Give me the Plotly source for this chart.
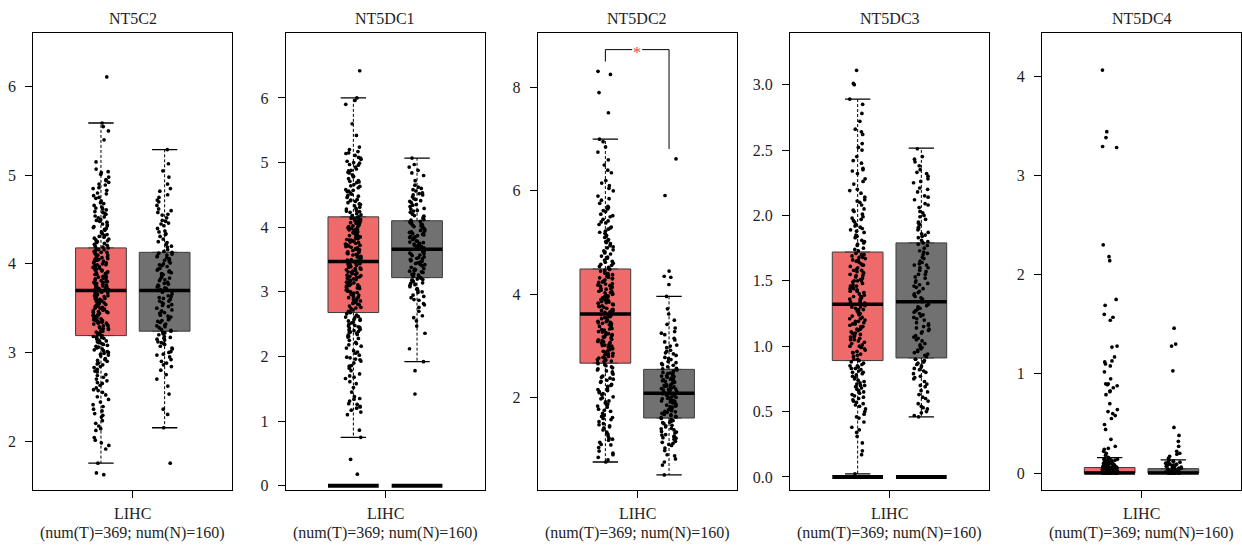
import numpy as np
import plotly.graph_objects as go

# ---- data -------------------------------------------------------------
genes = ["NT5C2", "NT5DC1", "NT5DC2", "NT5DC3", "NT5DC4"]
cancer = "LIHC"
n_tumor, n_normal = 369, 160

# box statistics per gene: [lower whisker, q1, median, q3, upper whisker]
tumor_stats = [
    [1.75, 3.19, 3.70, 4.18, 5.59],
    [0.75, 2.68, 3.47, 4.16, 6.00],
    [0.76, 2.67, 3.62, 4.49, 7.00],
    [0.024, 0.89, 1.32, 1.72, 2.89],
    [0.00, 0.00, 0.00, 0.056, 0.156],
]
normal_stats = [
    [2.15, 3.24, 3.70, 4.13, 5.29],
    [1.92, 3.22, 3.66, 4.10, 5.07],
    [0.51, 1.61, 2.09, 2.55, 3.96],
    [0.46, 0.91, 1.34, 1.79, 2.515],
    [0.00, 0.00, 0.00, 0.045, 0.133],
]
# genes with a group of zero-expression samples
zero_group = [False, True, False, True, False]
# significance mark (NT5DC2 only): bracket height and leg ends
sig_marks = ["", "", "*", "", ""]
bracket_y = 8.73
bracket_left_end = 8.50
bracket_right_end = 6.81

# sample values (log2(TPM+1))
tumor_nt5c2 = [
    1.62, 1.64, 1.75, 1.91, 1.95, 2.01, 2.04, 2.12, 2.17, 2.2, 2.23, 2.29, 2.31, 2.34, 2.41, 2.44,
    2.47, 2.52, 2.55, 2.57, 2.6, 2.63, 2.66, 2.68, 2.7, 2.74, 2.75, 2.78, 2.81, 2.83, 2.84, 2.87,
    2.9, 2.91, 2.93, 2.96, 2.98, 3.0, 3.01, 3.03, 3.05, 3.07, 3.08, 3.1, 3.11, 3.13, 3.14, 3.16,
    3.17, 3.18, 2.99, 3.06, 2.88, 3.12, 3.15,
    3.19, 3.2, 3.22, 3.23, 3.25, 3.26, 3.28, 3.29, 3.3, 3.32, 3.33, 3.35, 3.36, 3.37, 3.39, 3.4,
    3.42, 3.43, 3.44, 3.46, 3.47, 3.49, 3.5, 3.51, 3.52, 3.54, 3.55, 3.56, 3.58, 3.59, 3.6, 3.61,
    3.63, 3.64, 3.65, 3.66, 3.67, 3.68, 3.69, 3.7, 3.21, 3.27, 3.34, 3.41, 3.48, 3.53, 3.57, 3.62,
    3.66, 3.24, 3.38, 3.45, 3.31, 3.52, 3.59,
    3.71, 3.72, 3.73, 3.75, 3.76, 3.77, 3.79, 3.8, 3.81, 3.83, 3.84, 3.86, 3.87, 3.88, 3.9, 3.91,
    3.93, 3.94, 3.95, 3.97, 3.98, 4.0, 4.01, 4.02, 4.04, 4.05, 4.07, 4.08, 4.09, 4.11, 4.12, 4.14,
    4.15, 4.17, 4.18, 3.74, 3.82, 3.89, 3.96, 4.03, 4.1, 4.16, 3.78, 3.92, 4.06, 3.85, 3.99, 4.13,
    3.71, 3.8,
    4.19, 4.21, 4.22, 4.24, 4.26, 4.27, 4.29, 4.31, 4.32, 4.34, 4.36, 4.38, 4.4, 4.41, 4.43, 4.45,
    4.47, 4.5, 4.52, 4.54, 4.57, 4.59, 4.61, 4.63, 4.66, 4.68, 4.71, 4.74, 4.77, 4.8, 4.83, 4.86,
    4.89, 4.92, 4.95, 4.98, 5.01, 5.04, 5.07, 5.15, 5.4, 5.5, 5.55, 5.59, 6.11, 4.25, 4.33, 4.42,
    4.49, 4.56, 4.64, 4.79, 4.9,
    2.58, 2.65, 2.72, 2.79, 2.86, 2.92, 2.97, 3.02, 3.04, 3.09, 3.13, 3.17, 3.2, 3.24, 3.27, 3.3,
    3.33, 3.36, 3.39, 3.42, 3.45, 3.48, 3.5, 3.53, 3.56, 3.58, 3.61, 3.64, 3.67, 3.69, 3.72, 3.74,
    3.77, 3.79, 3.82, 3.85, 3.88, 3.9, 3.93, 3.96, 3.99, 4.01, 4.04, 4.07, 4.1, 4.13, 4.16, 4.2,
    4.23, 4.28, 4.3, 4.35, 4.39, 4.44, 4.48, 4.53, 4.58, 4.62, 4.69, 4.75, 4.85, 4.94, 5.03, 2.39,
    2.5, 2.27, 2.36, 2.14, 1.98, 3.35, 3.55, 3.75, 3.95, 4.05, 3.65, 3.46, 3.26,
]
normal_nt5c2 = [
    1.75, 2.15, 2.3, 2.36, 2.53, 2.62, 2.7, 2.75, 2.8, 2.84, 2.88, 2.92, 2.95, 2.98, 3.01, 3.04,
    3.07, 3.1, 3.12, 3.14, 3.16, 3.18, 3.2, 3.22, 3.23, 2.86, 3.0, 3.09, 3.15, 3.21,
    3.24, 3.26, 3.28, 3.3, 3.32, 3.34, 3.36, 3.38, 3.4, 3.42, 3.44, 3.46, 3.48, 3.5, 3.52, 3.54,
    3.56, 3.58, 3.6, 3.62, 3.64, 3.66, 3.68, 3.7, 3.29, 3.37, 3.45, 3.53, 3.61, 3.41,
    3.71, 3.73, 3.75, 3.77, 3.79, 3.81, 3.83, 3.85, 3.87, 3.89, 3.91, 3.93, 3.95, 3.97, 3.99, 4.01,
    4.03, 4.05, 4.07, 4.09, 4.11, 4.12, 3.74, 3.82, 3.9, 3.98, 4.06, 3.78, 3.94, 4.1,
    4.13, 4.16, 4.19, 4.22, 4.25, 4.28, 4.31, 4.34, 4.37, 4.4, 4.43, 4.46, 4.49, 4.52, 4.55, 4.58,
    4.62, 4.66, 4.72, 4.78, 4.82, 4.85, 4.98, 5.13, 5.29, 4.2, 4.33, 4.45, 4.56, 4.7,
    2.9, 2.97, 3.05, 3.11, 3.17, 3.25, 3.31, 3.39, 3.47, 3.55, 3.63, 3.69, 3.76, 3.84, 3.92, 4.0,
    4.08, 4.14, 4.24, 4.36, 4.48, 4.6, 4.75, 4.9, 5.05, 3.58, 3.72, 3.88, 4.04, 3.35,
]
tumor_nt5dc1 = [
    0.18, 0.41, 0.75, 0.86, 1.1, 1.14, 1.17, 1.2, 1.23, 1.27, 1.31, 1.35, 1.38, 1.45, 1.52, 1.58,
    1.61, 1.66, 1.7, 1.73, 1.78, 1.82, 1.86, 1.9, 1.93, 1.96, 1.99, 2.02, 2.05, 2.09, 2.13, 2.18,
    2.22, 2.25, 2.28, 2.31, 2.34, 2.36, 2.38, 2.4, 2.42, 2.44, 2.46, 2.48, 2.5, 2.53, 2.55, 2.57,
    2.6, 2.62, 2.64, 2.66, 1.26, 1.98, 2.37, 2.45, 2.58,
    2.68, 2.7, 2.72, 2.74, 2.76, 2.78, 2.8, 2.82, 2.84, 2.86, 2.88, 2.9, 2.92, 2.95, 2.97, 2.99,
    3.01, 3.03, 3.05, 3.07, 3.09, 3.11, 3.13, 3.15, 3.17, 3.19, 3.21, 3.23, 3.25, 3.27, 3.29, 3.31,
    3.33, 3.35, 3.37, 3.39, 3.41, 3.43, 3.45, 3.47, 2.91, 3.0, 3.08, 3.16, 3.24, 3.32, 3.4, 2.83,
    3.12, 3.28, 3.36, 3.44, 2.96, 3.2, 3.04,
    3.48, 3.5, 3.52, 3.54, 3.56, 3.58, 3.6, 3.62, 3.64, 3.66, 3.68, 3.7, 3.72, 3.74, 3.76, 3.78,
    3.8, 3.82, 3.84, 3.86, 3.88, 3.9, 3.92, 3.94, 3.96, 3.98, 4.0, 4.02, 4.04, 4.06, 4.08, 4.1,
    4.12, 4.14, 4.15, 3.55, 3.63, 3.71, 3.79, 3.87, 3.95, 4.03, 4.11, 3.59, 3.75, 3.91, 4.07, 3.67,
    3.83, 3.99,
    4.16, 4.18, 4.21, 4.23, 4.26, 4.28, 4.31, 4.33, 4.36, 4.38, 4.41, 4.43, 4.46, 4.48, 4.51, 4.53,
    4.56, 4.58, 4.61, 4.63, 4.66, 4.69, 4.72, 4.75, 4.78, 4.81, 4.84, 4.87, 4.9, 4.93, 4.96, 4.99,
    5.02, 5.05, 5.08, 5.11, 5.14, 5.17, 5.2, 5.24, 5.42, 5.6, 5.9, 5.96, 6.0, 6.42, 4.25, 4.4,
    4.55, 4.7, 4.85, 5.0,
    2.2, 2.3, 2.39, 2.47, 2.52, 2.61, 2.69, 2.75, 2.81, 2.87, 2.93, 2.98, 3.02, 3.06, 3.1, 3.14,
    3.18, 3.22, 3.26, 3.3, 3.34, 3.38, 3.42, 3.46, 3.49, 3.53, 3.57, 3.61, 3.65, 3.69, 3.73, 3.77,
    3.81, 3.85, 3.89, 3.93, 3.97, 4.01, 4.05, 4.09, 4.13, 4.19, 4.24, 4.29, 4.35, 4.42, 4.49, 4.57,
    4.64, 4.71, 4.79, 4.88, 4.97, 5.07, 5.15, 1.95, 1.85, 1.68, 1.34, 1.22, 2.07, 2.16, 2.33, 2.41,
    2.56, 3.44, 3.62, 3.8, 3.96, 4.1,
]
normal_nt5dc1 = [
    1.42, 1.78, 1.92, 2.12, 2.36, 2.47, 2.55, 2.63, 2.7, 2.76, 2.82, 2.87, 2.91, 2.95, 2.99, 3.02,
    3.05, 3.08, 3.1, 3.12, 3.14, 3.16, 3.18, 3.2, 3.21, 2.88, 3.0, 3.13, 3.17, 3.19,
    3.22, 3.24, 3.26, 3.28, 3.3, 3.32, 3.34, 3.36, 3.38, 3.4, 3.42, 3.44, 3.46, 3.48, 3.5, 3.52,
    3.54, 3.56, 3.58, 3.6, 3.62, 3.64, 3.66, 3.27, 3.35, 3.43, 3.51, 3.59, 3.31, 3.47,
    3.67, 3.69, 3.71, 3.73, 3.75, 3.77, 3.79, 3.81, 3.83, 3.85, 3.87, 3.89, 3.91, 3.93, 3.95, 3.97,
    3.99, 4.01, 4.03, 4.05, 4.07, 4.09, 3.7, 3.78, 3.86, 3.94, 4.02, 3.74, 3.9, 4.06,
    4.11, 4.14, 4.17, 4.2, 4.23, 4.26, 4.29, 4.32, 4.35, 4.38, 4.41, 4.44, 4.47, 4.5, 4.53, 4.56,
    4.6, 4.65, 4.72, 4.8, 4.88, 4.93, 4.97, 5.07, 4.16, 4.28, 4.4, 4.52, 4.62, 4.84,
    2.8, 2.93, 3.04, 3.11, 3.18, 3.25, 3.33, 3.41, 3.49, 3.57, 3.63, 3.68, 3.76, 3.84, 3.92, 4.0,
    4.08, 4.12, 4.18, 4.25, 4.34, 4.43, 4.5, 4.58, 3.53, 3.72, 3.88, 4.04, 3.45, 2.6,
]
tumor_nt5dc2 = [
    0.76, 0.8, 0.85, 0.9, 0.97, 1.04, 1.09, 1.14, 1.18, 1.22, 1.26, 1.3, 1.34, 1.38, 1.42, 1.46,
    1.5, 1.54, 1.58, 1.62, 1.66, 1.7, 1.74, 1.78, 1.82, 1.86, 1.9, 1.94, 1.98, 2.02, 2.06, 2.1,
    2.14, 2.18, 2.22, 2.26, 2.3, 2.34, 2.38, 2.42, 2.46, 2.5, 2.54, 2.58, 2.62, 2.66, 1.2, 1.6,
    1.88, 2.12, 2.36, 2.52, 2.6,
    2.68, 2.71, 2.73, 2.76, 2.78, 2.81, 2.83, 2.86, 2.88, 2.91, 2.93, 2.96, 2.98, 3.01, 3.03, 3.06,
    3.08, 3.11, 3.13, 3.16, 3.18, 3.21, 3.23, 3.26, 3.28, 3.31, 3.33, 3.36, 3.38, 3.41, 3.43, 3.46,
    3.48, 3.51, 3.53, 3.56, 3.58, 3.61, 2.74, 2.85, 2.97, 3.09, 3.2, 3.32, 3.44, 3.55, 2.8, 3.0,
    3.24, 3.47,
    3.63, 3.66, 3.68, 3.71, 3.73, 3.76, 3.78, 3.81, 3.83, 3.86, 3.88, 3.91, 3.93, 3.96, 3.98, 4.01,
    4.03, 4.06, 4.08, 4.11, 4.13, 4.16, 4.18, 4.21, 4.23, 4.26, 4.28, 4.31, 4.33, 4.36, 4.38, 4.41,
    4.43, 4.46, 4.48, 3.7, 3.84, 3.97, 4.1, 4.24, 4.37, 3.77, 4.04, 4.3, 3.9, 4.17,
    4.5, 4.54, 4.58, 4.62, 4.66, 4.7, 4.74, 4.78, 4.82, 4.86, 4.9, 4.94, 4.98, 5.02, 5.06, 5.1,
    5.14, 5.18, 5.22, 5.26, 5.3, 5.35, 5.4, 5.45, 5.5, 5.55, 5.6, 5.65, 5.7, 5.76, 5.82, 5.9,
    6.0, 6.1, 6.2, 6.35, 6.5, 6.6, 6.75, 6.85, 6.95, 7.0, 7.51, 7.9, 8.25, 8.31, 4.6, 4.8,
    5.0, 5.2, 5.42, 5.62, 6.05,
    1.32, 1.48, 1.64, 1.76, 1.84, 1.92, 2.0, 2.08, 2.16, 2.24, 2.32, 2.4, 2.48, 2.56, 2.64, 2.7,
    2.77, 2.84, 2.9, 2.95, 3.02, 3.07, 3.12, 3.17, 3.22, 3.27, 3.34, 3.4, 3.45, 3.5, 3.57, 3.6,
    3.65, 3.69, 3.75, 3.8, 3.85, 3.89, 3.95, 4.0, 4.05, 4.12, 4.15, 4.2, 4.25, 4.32, 4.35, 4.4,
    4.45, 4.52, 4.56, 4.64, 4.72, 4.84, 4.92, 5.04, 5.12, 5.28, 5.38, 5.52, 5.68, 5.85, 6.15, 6.4,
    1.1, 0.93, 1.44,
]
normal_nt5dc2 = [
    0.51, 0.7, 0.76, 0.82, 0.9, 0.98, 1.03, 1.08, 1.12, 1.16, 1.2, 1.23, 1.26, 1.29, 1.32, 1.35,
    1.38, 1.41, 1.44, 1.47, 1.5, 1.53, 1.56, 1.58, 1.6, 1.14, 1.28, 1.4, 1.52, 1.25,
    1.62, 1.64, 1.66, 1.68, 1.7, 1.72, 1.74, 1.76, 1.78, 1.8, 1.82, 1.84, 1.86, 1.88, 1.9, 1.92,
    1.94, 1.96, 1.98, 2.0, 2.02, 2.04, 2.06, 2.08, 1.67, 1.75, 1.83, 1.91, 1.99, 2.05,
    2.1, 2.12, 2.14, 2.16, 2.18, 2.2, 2.22, 2.24, 2.26, 2.28, 2.3, 2.32, 2.34, 2.36, 2.38, 2.4,
    2.42, 2.44, 2.46, 2.48, 2.5, 2.52, 2.54, 2.15, 2.23, 2.31, 2.39, 2.47, 2.19, 2.35,
    2.57, 2.6, 2.63, 2.66, 2.7, 2.74, 2.78, 2.82, 2.87, 2.92, 2.97, 3.02, 3.08, 3.15, 3.22, 3.28,
    3.35, 3.42, 3.5, 3.62, 3.72, 3.96, 4.19, 4.33, 4.35, 4.45, 5.91, 6.62, 2.68, 2.9,
    1.1, 1.22, 1.34, 1.46, 1.55, 1.63, 1.69, 1.77, 1.85, 1.93, 2.01, 2.07, 2.11, 2.17, 2.25, 2.33,
    2.41, 2.49, 2.56, 2.64, 2.76, 2.85, 3.0, 3.12, 3.25, 1.73, 1.95, 2.21, 2.43, 0.88,
]
tumor_nt5dc3 = [
    0.024, 0.17, 0.2, 0.26, 0.31, 0.34, 0.36, 0.42, 0.46, 0.5, 0.52, 0.55, 0.57, 0.59, 0.61, 0.63,
    0.65, 0.67, 0.69, 0.71, 0.73, 0.75, 0.77, 0.79, 0.81, 0.83, 0.85, 0.87, 0.88, 0.54, 0.62, 0.7,
    0.78, 0.84, 0.66, 0.74, 0.8, 0.86, 0.6, 0.82, 0.45, 0.38, 0.56, 0.72, 0.89,
    0.9, 0.92, 0.93, 0.95, 0.96, 0.98, 0.99, 1.01, 1.02, 1.04, 1.05, 1.07, 1.08, 1.1, 1.11, 1.13,
    1.14, 1.16, 1.17, 1.19, 1.2, 1.22, 1.23, 1.25, 1.26, 1.28, 1.29, 1.31, 1.32, 0.94, 1.0, 1.06,
    1.12, 1.18, 1.24, 1.3, 0.97, 1.09, 1.15, 1.21, 1.27, 1.03, 1.1, 1.19,
    1.33, 1.35, 1.36, 1.38, 1.39, 1.41, 1.42, 1.44, 1.45, 1.47, 1.48, 1.5, 1.51, 1.53, 1.54, 1.56,
    1.57, 1.59, 1.6, 1.62, 1.63, 1.65, 1.66, 1.68, 1.69, 1.71, 1.37, 1.43, 1.49, 1.55, 1.61, 1.67,
    1.4, 1.52, 1.64, 1.46, 1.58, 1.7, 1.34, 1.5,
    1.73, 1.75, 1.77, 1.79, 1.81, 1.83, 1.85, 1.87, 1.89, 1.91, 1.93, 1.95, 1.97, 1.99, 2.01, 2.03,
    2.05, 2.08, 2.11, 2.14, 2.17, 2.2, 2.24, 2.28, 2.32, 2.36, 2.4, 2.45, 2.5, 2.55, 2.62, 2.66,
    2.72, 2.78, 2.85, 2.89, 3.0, 3.01, 3.11, 1.8, 1.9, 1.96, 2.1, 2.35,
    0.48, 0.58, 0.64, 0.68, 0.76, 0.8, 0.85, 0.9, 0.95, 1.0, 1.05, 1.09, 1.13, 1.17, 1.21, 1.25,
    1.28, 1.3, 1.34, 1.38, 1.42, 1.46, 1.5, 1.54, 1.58, 1.62, 1.66, 1.7, 1.74, 1.78, 1.84, 1.88,
    1.92, 1.98, 2.04, 2.12, 2.19, 2.26, 2.34, 2.42, 2.52, 2.64, 0.7, 0.83, 1.07, 1.15, 1.36, 1.44,
    1.56, 1.68,
]
normal_nt5dc3 = [
    0.46, 0.47, 0.49, 0.52, 0.54, 0.56, 0.58, 0.61, 0.63, 0.66, 0.69, 0.71, 0.73, 0.75, 0.77, 0.79,
    0.81, 0.83, 0.84, 0.86, 0.87, 0.88, 0.89, 0.9, 0.53, 0.65, 0.76, 0.82, 0.85, 0.9,
    0.92, 0.94, 0.96, 0.98, 1.0, 1.02, 1.04, 1.06, 1.08, 1.1, 1.12, 1.14, 1.16, 1.18, 1.2, 1.22,
    1.24, 1.26, 1.28, 1.3, 1.32, 1.34, 0.97, 1.05, 1.13, 1.21, 1.29, 1.01, 1.17, 1.25,
    1.36, 1.38, 1.4, 1.42, 1.45, 1.48, 1.5, 1.53, 1.55, 1.58, 1.6, 1.63, 1.65, 1.68, 1.7, 1.73,
    1.75, 1.78, 1.79, 1.41, 1.52, 1.62, 1.72, 1.44, 1.57, 1.67, 1.37, 1.49, 1.6, 1.77,
    1.81, 1.83, 1.85, 1.87, 1.89, 1.91, 1.93, 1.95, 1.97, 2.0, 2.03, 2.06, 2.09, 2.12, 2.15, 2.18,
    2.21, 2.25, 2.28, 2.32, 2.35, 2.38, 2.41, 2.45, 2.51, 1.86, 1.94, 2.02, 2.14, 2.3,
    0.5, 0.6, 0.7, 0.8, 0.88, 0.93, 0.99, 1.07, 1.15, 1.23, 1.31, 1.39, 1.47, 1.55, 1.64, 1.71,
    1.8, 1.9, 1.99, 2.08, 2.2, 2.33, 2.43, 1.11, 1.27, 1.46, 1.62, 0.95, 1.84, 2.26,
]
tumor_nt5dc4 = [
    0.0, 0.0, 0.0, 0.0, 0.0, 0.0, 0.0, 0.0, 0.0, 0.0, 0.01, 0.0, 0.01, 0.0, 0.02, 0.0,
    0.01, 0.0, 0.02, 0.03, 0.01, 0.04, 0.02, 0.05, 0.03, 0.06, 0.04, 0.07, 0.05, 0.08, 0.06, 0.09,
    0.07, 0.1, 0.08, 0.11, 0.09, 0.12, 0.1, 0.13, 0.11, 0.14, 0.12, 0.15, 0.13, 0.16, 0.14, 0.15,
    0.02, 0.03, 0.05, 0.07, 0.1, 0.12, 0.0, 0.0, 0.01, 0.02, 0.03, 0.04, 0.05, 0.06, 0.08, 0.09,
    0.11, 0.13, 0.04, 0.06, 0.08, 0.0, 0.01, 0.03,
    0.18, 0.2, 0.22, 0.24, 0.25, 0.27, 0.34, 0.44, 0.49, 0.55, 0.58, 0.6, 0.62, 0.64, 0.7, 0.79,
    0.82, 0.83, 0.86, 0.88, 0.89, 0.9, 0.9, 0.95, 1.02, 1.08, 1.1, 1.12, 1.13, 1.17, 1.27, 1.28,
    1.54, 1.57, 1.6, 1.69, 1.75, 2.14, 2.18, 2.3, 3.28, 3.29, 3.38, 3.44, 4.06,
]
normal_nt5dc4 = [
    0.0, 0.0, 0.0, 0.0, 0.0, 0.0, 0.0, 0.0, 0.01, 0.0, 0.01, 0.02, 0.0, 0.03, 0.01, 0.04,
    0.02, 0.05, 0.03, 0.06, 0.04, 0.07, 0.05, 0.08, 0.06, 0.09, 0.07, 0.1, 0.08, 0.11, 0.09, 0.12,
    0.1, 0.13, 0.11, 0.12, 0.0, 0.01, 0.02, 0.04, 0.06, 0.08, 0.1, 0.03, 0.05,
    0.15, 0.17, 0.19, 0.2, 0.22, 0.27, 0.32, 0.38, 0.46, 1.03, 1.28, 1.3, 1.46,
]

tumor_values = [tumor_nt5c2, tumor_nt5dc1, tumor_nt5dc2, tumor_nt5dc3, tumor_nt5dc4]
normal_values = [normal_nt5c2, normal_nt5dc1, normal_nt5dc2, normal_nt5dc3, normal_nt5dc4]

# ---- axes --------------------------------------------------------------
y_ranges = [[1.443, 6.605], [-0.071, 7.003], [0.211, 9.05], [-0.103, 3.395], [-0.174, 4.433]]
y_ticks = [[2, 3, 4, 5, 6], [0, 1, 2, 3, 4, 5, 6], [2, 4, 6, 8],
           [0, 0.5, 1, 1.5, 2, 2.5, 3], [0, 1, 2, 3, 4]]
y_tickformat = ["d", "d", "d", ".1f", "d"]

# ---- style / geometry ------------------------------------------------
W, H = 1242, 547
panel_left_px = [33.3, 285.7, 537.7, 790.0, 1042.0]
panel_width_px = 199.0
plot_top_px, plot_bottom_px = 33.3, 494.0
FONT = "'Liberation Serif', 'Times New Roman', 'DejaVu Serif', serif"
TEXT = "#1e1e1e"
TUMOR_FILL = "#EE6A6B"
NORMAL_FILL = "#717171"
EDGE = "#3C3C3C"
centers = {"T": -0.32, "N": 0.32}
box_w = 0.51
jitter = 0.08

rng = np.random.default_rng(2024)  # horizontal jitter of the sample dots

fig = go.Figure()
annotations = []

for i, gene in enumerate(genes):
    sfx = "" if i == 0 else str(i + 1)
    xa, ya = "x" + sfx, "y" + sfx
    groups = [("T", tumor_stats[i], tumor_values[i], TUMOR_FILL),
              ("N", normal_stats[i], normal_values[i], NORMAL_FILL)]
    for key, stats, vals, fill in groups:
        c = centers[key]
        lo, q1, med, q3, hi = stats
        # box body
        fig.add_trace(go.Box(
            x=[c], q1=[q1], median=[med], q3=[q3], lowerfence=[q1], upperfence=[q3],
            width=box_w, fillcolor=fill, line=dict(color=EDGE, width=1),
            xaxis=xa, yaxis=ya, showlegend=False, hoverinfo="skip"))
        # dashed whiskers
        fig.add_trace(go.Scatter(
            x=[c, c, None, c, c], y=[q3, hi, None, q1, lo], mode="lines",
            line=dict(color="black", width=1, dash="3px,2px"),
            xaxis=xa, yaxis=ya, showlegend=False, hoverinfo="skip"))
        # whisker caps
        fig.add_trace(go.Scatter(
            x=[c - box_w / 4, c + box_w / 4, None, c - box_w / 4, c + box_w / 4],
            y=[hi, hi, None, lo, lo], mode="lines",
            line=dict(color="black", width=1.3),
            xaxis=xa, yaxis=ya, showlegend=False, hoverinfo="skip"))
        # jittered samples
        xs = c + rng.uniform(-jitter, jitter, len(vals))
        fig.add_trace(go.Scatter(
            x=xs, y=vals, mode="markers",
            marker=dict(color="black", size=3.7, line=dict(width=0)),
            xaxis=xa, yaxis=ya, showlegend=False, hoverinfo="skip"))
        # median
        fig.add_trace(go.Scatter(
            x=[c - box_w / 2, c + box_w / 2], y=[med, med], mode="lines",
            line=dict(color="black", width=3.5),
            xaxis=xa, yaxis=ya, showlegend=False, hoverinfo="skip"))
        # zero-expression samples
        if zero_group[i]:
            fig.add_trace(go.Scatter(
                x=[c - box_w / 2, c + box_w / 2], y=[0, 0], mode="lines",
                line=dict(color="black", width=4),
                xaxis=xa, yaxis=ya, showlegend=False, hoverinfo="skip"))

    if sig_marks[i]:
        xl, xr = centers["T"], centers["N"]
        gap = 0.05
        fig.add_trace(go.Scatter(
            x=[xl, xl, -gap, None, gap, xr, xr],
            y=[bracket_left_end, bracket_y, bracket_y, None, bracket_y, bracket_y, bracket_right_end],
            mode="lines", line=dict(color="black", width=1),
            xaxis=xa, yaxis=ya, showlegend=False, hoverinfo="skip"))
        annotations.append(dict(
            x=0, y=bracket_y, xref=xa, yref=ya, text=sig_marks[i], showarrow=False,
            font=dict(family=FONT, size=16, color="#E8474A"), yshift=-3))

    x0 = panel_left_px[i] / W
    x1 = (panel_left_px[i] + panel_width_px) / W
    y0 = 1 - plot_bottom_px / H
    y1 = 1 - plot_top_px / H
    axis_common = dict(showline=True, mirror=True, linecolor="black", linewidth=1,
                       ticks="outside", ticklen=7, tickcolor="black", tickwidth=1,
                       showgrid=False, zeroline=False,
                       tickfont=dict(family=FONT, size=16, color=TEXT))
    fig.update_layout(**{
        "xaxis" + sfx: dict(domain=[x0, x1], range=[-1, 1], tickvals=[0], ticktext=[""],
                            anchor=ya, **axis_common),
        "yaxis" + sfx: dict(domain=[y0, y1], range=y_ranges[i], tickvals=y_ticks[i],
                            tickformat=y_tickformat[i], anchor=xa, ticklabelstandoff=6,
                            **axis_common),
    })

    xc = (x0 + x1) / 2
    annotations.append(dict(x=xc, y=1 - 19 / H, xref="paper", yref="paper", text=gene,
                            showarrow=False, font=dict(family=FONT, size=16, color=TEXT),
                            xanchor="center", yanchor="middle"))
    annotations.append(dict(x=xc, y=1 - 517.5 / H, xref="paper", yref="paper", text=cancer,
                            showarrow=False, font=dict(family=FONT, size=16, color=TEXT),
                            xanchor="center", yanchor="middle"))
    annotations.append(dict(x=xc, y=1 - 536.5 / H, xref="paper", yref="paper",
                            text=f"(num(T)={n_tumor}; num(N)={n_normal})",
                            showarrow=False, font=dict(family=FONT, size=16, color=TEXT),
                            xanchor="center", yanchor="middle"))

fig.update_layout(
    width=W, height=H, margin=dict(l=0, r=0, t=0, b=0),
    paper_bgcolor="white", plot_bgcolor="white",
    font=dict(family=FONT, size=16, color=TEXT),
    annotations=annotations, boxmode="overlay",
)

fig.write_html("out.html")
